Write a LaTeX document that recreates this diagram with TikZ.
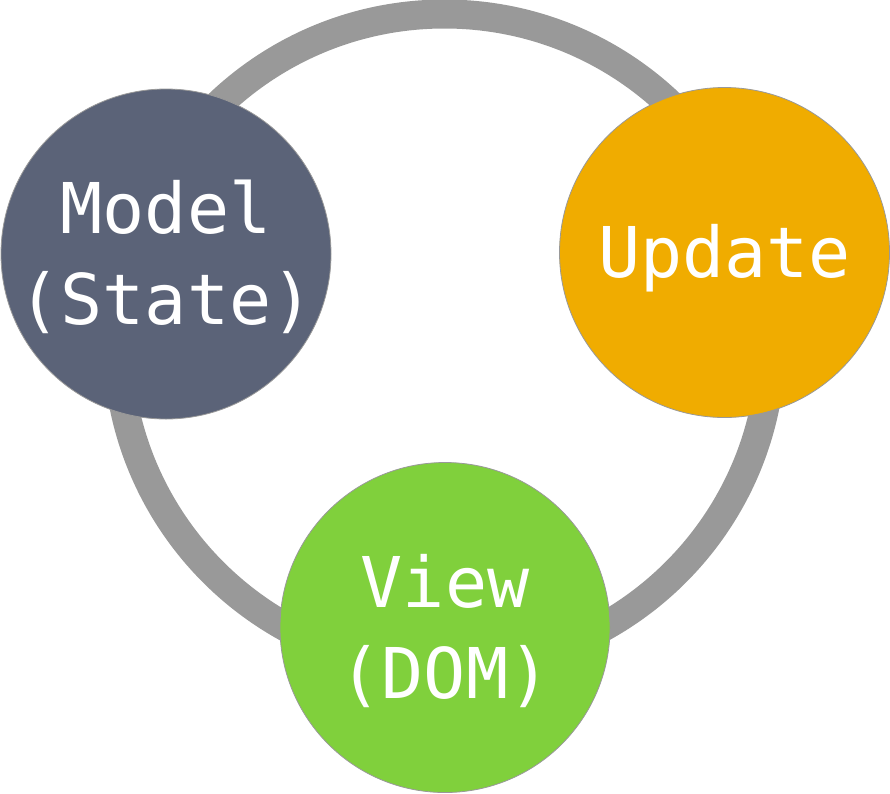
\documentclass[tikz,border=0pt]{standalone}
\usepackage{fontspec}
\usepackage{tikz}
\newfontfamily\loopfont{DejaVu Sans Mono}
\definecolor{ringgray}{HTML}{999999}
\definecolor{modelslate}{HTML}{5B6378}
\definecolor{updateamber}{HTML}{F0AC00}
\definecolor{viewgreen}{HTML}{80D03C}

\begin{document}
\begin{tikzpicture}[x=1pt, y=-1pt,
		stage/.style={circle, draw=ringgray, line width=0.8pt, minimum size=330pt, inner sep=0pt,
			align=center, text=white, font=\loopfont\fontsize{70}{91}\selectfont,
			text depth=0pt},
		twoline/.style={text height=141pt},
		oneline/.style={text height=50pt}]
			%%%%% START %%%%%
			
			\useasboundingbox (0, 0) rectangle (890, 793);
			
			\coordinate (hub) at (444.5, 341);
			\draw[line width=29pt, color=ringgray] (hub) circle (327pt);
			
			\node[stage, twoline, fill=modelslate] (model) at (166, 254) {Model\\(State)};
			\node[stage, oneline, fill=updateamber] (update) at (724.5, 252.5) {Update};
			\node[stage, twoline, fill=viewgreen] (view) at (445, 627.5) {View\\(DOM)};
			
			%%%%% END %%%%%
		\end{tikzpicture}
\end{document}
